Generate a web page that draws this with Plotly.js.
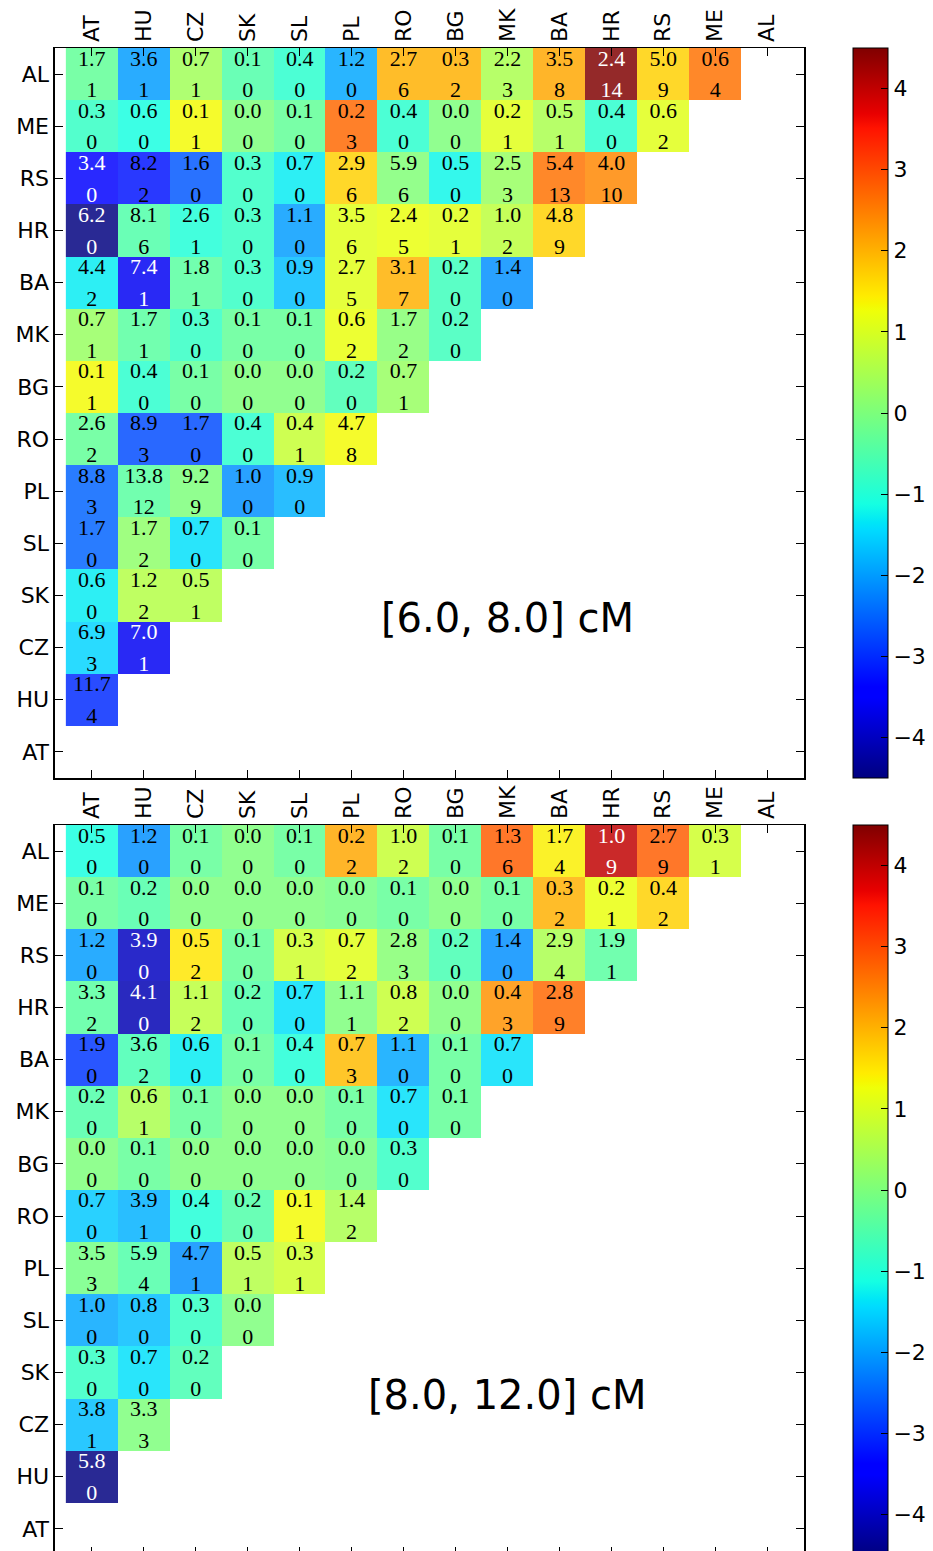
<!DOCTYPE html>
<html><head><meta charset="utf-8">
<script src="https://cdn.plot.ly/plotly-3.0.1.min.js"></script>
<style>html,body{margin:0;padding:0;overflow:hidden;background:#fff}#chart{width:933px;height:1560px}</style>
</head><body><div id="chart"></div>
<script>
const colLabels = ['AT','HU','CZ','SK','SL','PL','RO','BG','MK','BA','HR','RS','ME','AL'];
const rowLabels = ['AL','ME','RS','HR','BA','MK','BG','RO','PL','SL','SK','CZ','HU','AT'];
const colorTicks = [-4,-3,-2,-1,0,1,2,3,4];
const panelLabels = ['[6.0, 8.0] cM','[8.0, 12.0] cM'];

// Panel 1: [6.0, 8.0] cM
const expected68 = [
 [1.7,3.6,0.7,0.1,0.4,1.2,2.7,0.3,2.2,3.5,2.4,5.0,0.6],
 [0.3,0.6,0.1,0.0,0.1,0.2,0.4,0.0,0.2,0.5,0.4,0.6],
 [3.4,8.2,1.6,0.3,0.7,2.9,5.9,0.5,2.5,5.4,4.0],
 [6.2,8.1,2.6,0.3,1.1,3.5,2.4,0.2,1.0,4.8],
 [4.4,7.4,1.8,0.3,0.9,2.7,3.1,0.2,1.4],
 [0.7,1.7,0.3,0.1,0.1,0.6,1.7,0.2],
 [0.1,0.4,0.1,0.0,0.0,0.2,0.7],
 [2.6,8.9,1.7,0.4,0.4,4.7],
 [8.8,13.8,9.2,1.0,0.9],
 [1.7,1.7,0.7,0.1],
 [0.6,1.2,0.5],
 [6.9,7.0],
 [11.7],
 []
];
const observed68 = [
 [1,1,1,0,0,0,6,2,3,8,14,9,4],
 [0,0,1,0,0,3,0,0,1,1,0,2],
 [0,2,0,0,0,6,6,0,3,13,10],
 [0,6,1,0,0,6,5,1,2,9],
 [2,1,1,0,0,5,7,0,0],
 [1,1,0,0,0,2,2,0],
 [1,0,0,0,0,0,1],
 [2,3,0,0,1,8],
 [3,12,9,0,0],
 [0,2,0,0],
 [0,2,1],
 [3,1],
 [4],
 []
];
const score68 = [
 [-0.3,-2.0,0.4,-0.5,-0.9,-1.9,2.0,2.0,0.5,2.1,4.5,1.7,2.6],
 [-0.8,-1.1,1.3,0.0,-0.3,2.7,-0.9,0.0,1.1,0.5,-0.9,1.1],
 [-3.5,-3.2,-2.6,-0.8,-1.3,1.7,0.05,-1.2,0.3,2.6,2.4],
 [-4.5,-0.5,-1.0,-0.8,-2.0,1.1,1.2,1.1,0.7,1.7],
 [-1.3,-3.6,-0.4,-0.8,-1.7,1.1,2.0,-0.7,-2.1],
 [0.3,-0.4,-0.8,-0.3,-0.3,1.2,0.1,-0.7],
 [1.3,-0.9,-0.3,0.0,0.0,-0.6,0.3],
 [-0.3,-2.7,-2.7,-0.9,0.8,1.3],
 [-2.5,-0.4,0.0,-2.1,-1.8],
 [-2.5,0.2,-1.4,-0.3],
 [-1.3,0.6,0.6],
 [-1.5,-3.6],
 [-3.0],
 []
];

// Panel 2: [8.0, 12.0] cM
const expected812 = [
 [0.5,1.2,0.1,0.0,0.1,0.2,1.0,0.1,1.3,1.7,1.0,2.7,0.3],
 [0.1,0.2,0.0,0.0,0.0,0.0,0.1,0.0,0.1,0.3,0.2,0.4],
 [1.2,3.9,0.5,0.1,0.3,0.7,2.8,0.2,1.4,2.9,1.9],
 [3.3,4.1,1.1,0.2,0.7,1.1,0.8,0.0,0.4,2.8],
 [1.9,3.6,0.6,0.1,0.4,0.7,1.1,0.1,0.7],
 [0.2,0.6,0.1,0.0,0.0,0.1,0.7,0.1],
 [0.0,0.1,0.0,0.0,0.0,0.0,0.3],
 [0.7,3.9,0.4,0.2,0.1,1.4],
 [3.5,5.9,4.7,0.5,0.3],
 [1.0,0.8,0.3,0.0],
 [0.3,0.7,0.2],
 [3.8,3.3],
 [5.8],
 []
];
const observed812 = [
 [0,0,0,0,0,2,2,0,6,4,9,9,1],
 [0,0,0,0,0,0,0,0,0,2,1,2],
 [0,0,2,0,1,2,3,0,0,4,1],
 [2,0,2,0,0,1,2,0,3,9],
 [0,2,0,0,0,3,0,0,0],
 [0,1,0,0,0,0,0,0],
 [0,0,0,0,0,0,0],
 [0,1,0,0,1,2],
 [3,4,1,1,1],
 [0,0,0,0],
 [0,0,0],
 [1,3],
 [0],
 []
];
const score812 = [
 [-1.1,-2.1,-0.3,0.0,-0.3,2.1,0.8,-0.3,2.8,1.4,4.0,2.8,0.9],
 [-0.3,-0.5,0.0,0.0,0.0,-0.1,-0.3,0.0,-0.3,2.0,1.2,1.7],
 [-2.0,-4.0,1.5,-0.3,0.9,1.1,0.1,-0.6,-2.1,0.5,-0.4],
 [-0.4,-4.1,0.7,-0.5,-1.4,0.0,0.8,0.0,2.3,2.7],
 [-2.9,-0.6,-1.3,-0.3,-1.0,1.9,-1.9,-0.3,-1.4],
 [-0.5,0.5,-0.3,0.0,0.0,-0.3,-1.4,-0.3],
 [0.0,-0.3,0.0,0.0,0.0,-0.1,-0.8],
 [-1.6,-1.8,-1.0,-0.5,1.3,0.5],
 [-0.1,-0.5,-2.1,0.6,0.9],
 [-1.9,-1.7,-0.8,0.0],
 [-0.8,-1.4,-0.6],
 [-1.7,0.0],
 [-4.5],
 []
];

const jet = [
 [0,'rgb(0,0,128)'],[0.11,'rgb(0,0,255)'],[0.125,'rgb(0,0,255)'],
 [0.34,'rgb(0,219,255)'],[0.35,'rgb(0,230,247)'],[0.375,'rgb(21,255,226)'],
 [0.64,'rgb(239,255,8)'],[0.65,'rgb(247,246,0)'],[0.66,'rgb(255,236,0)'],
 [0.89,'rgb(255,19,0)'],[0.91,'rgb(232,0,0)'],[1,'rgb(128,0,0)']
];

const W = 933, H = 1560;
const panelTops = [48, 825];
const panelH = 730;
const fx = p => p / W;
const fy = p => 1 - p / H;

const traces = [];
const layout = {
  width: W, height: H,
  margin: {l:0, r:0, t:0, b:0},
  paper_bgcolor: '#fff', plot_bgcolor: '#fff',
  showlegend: false,
  annotations: []
};

const panels = [
  {exp: expected68, obs: observed68, score: score68},
  {exp: expected812, obs: observed812, score: score812}
];

panels.forEach((pn, i) => {
  const xa = i === 0 ? 'x' : 'x2';
  const ya = i === 0 ? 'y' : 'y2';
  const z = [];
  const tx = [], ty = [], tt = [], tc = [];
  for (let r = 0; r < rowLabels.length; r++) {
    const row = [];
    for (let c = 0; c < colLabels.length; c++) {
      if (c < pn.score[r].length) {
        const s = pn.score[r][c];
        row.push(s);
        const col = (s <= -3.4 || s >= 3.8) ? '#ffffff' : '#000000';
        tx.push(c); ty.push(r - 0.27); tt.push(pn.exp[r][c].toFixed(1)); tc.push(col);
        tx.push(c); ty.push(r + 0.34); tt.push(String(pn.obs[r][c])); tc.push(col);
      } else {
        row.push(null);
      }
    }
    z.push(row);
  }
  traces.push({
    type: 'heatmap', xaxis: xa, yaxis: ya,
    x: colLabels.map((_, k) => k), y: rowLabels.map((_, k) => k), z: z,
    zmin: -4.5, zmax: 4.5, colorscale: jet, opacity: 0.84,
    hoverongaps: false,
    colorbar: {
      x: fx(853), xanchor: 'left', xref: 'paper',
      y: fy(panelTops[i]), yanchor: 'top', yref: 'paper',
      len: panelH, lenmode: 'pixels',
      thickness: 35, thicknessmode: 'pixels',
      outlinewidth: 1, outlinecolor: '#000',
      xpad: 0, ypad: 0,
      tickmode: 'array', tickvals: colorTicks,
      ticks: 'inside', ticklen: 7, tickcolor: '#000', tickwidth: 1,
      tickfont: {size: 22, family: 'DejaVu Sans', color: '#000'}
    }
  });
  traces.push({
    type: 'scatter', mode: 'text', xaxis: xa, yaxis: ya,
    x: tx, y: ty, text: tt, hoverinfo: 'skip',
    textposition: 'middle center',
    textfont: {family: 'Liberation Serif', size: 22, color: tc}
  });
  const top = panelTops[i];
  const common = {
    showgrid: false, zeroline: false, showline: true, linecolor: '#000', linewidth: 1.5,
    mirror: 'ticks', ticks: 'inside', ticklen: 8, tickcolor: '#000', tickwidth: 1,
    tickmode: 'array', automargin: false,
    tickfont: {size: 22, family: 'DejaVu Sans', color: '#000'}
  };
  layout[i === 0 ? 'xaxis' : 'xaxis2'] = Object.assign({}, common, {
    anchor: ya, domain: [fx(55), fx(805)], range: [-0.71, 13.71],
    side: 'top', tickangle: -90,
    tickvals: colLabels.map((_, k) => k), ticktext: colLabels
  });
  layout[i === 0 ? 'yaxis' : 'yaxis2'] = Object.assign({}, common, {
    anchor: xa, domain: [fy(top + panelH), fy(top)], range: [13.5, -0.5],
    tickvals: rowLabels.map((_, k) => k), ticktext: rowLabels
  });
  layout.annotations.push({
    xref: xa, yref: ya, x: 8.0, y: 10.43, text: panelLabels[i], showarrow: false,
    font: {size: 40, family: 'DejaVu Sans', color: '#000'}
  });
});

Plotly.newPlot('chart', traces, layout, {displayModeBar: false, staticPlot: true});
</script>
</body></html>
